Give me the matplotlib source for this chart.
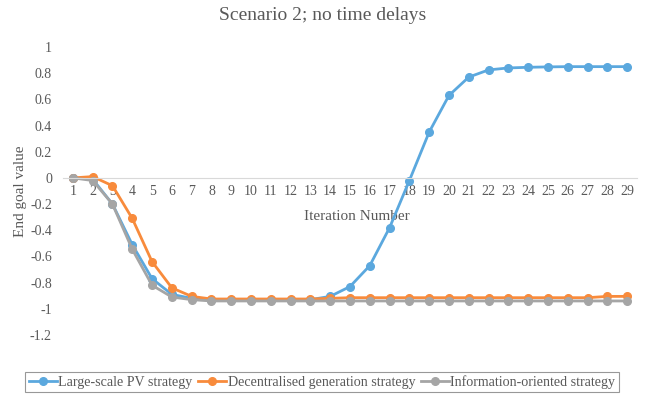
import matplotlib
matplotlib.use("Agg")
import matplotlib.pyplot as plt
import numpy as np

iterations = list(range(1, 30))

large_scale_pv = [0.0, -0.01, -0.2, -0.51, -0.77, -0.89, -0.92, -0.93, -0.93, -0.93,
                  -0.93, -0.93, -0.93, -0.905, -0.83, -0.67, -0.38, -0.02, 0.35, 0.63,
                  0.77, 0.825, 0.84, 0.845, 0.848, 0.85, 0.85, 0.85, 0.85]
decentralised = [0.0, 0.01, -0.06, -0.31, -0.64, -0.84, -0.905, -0.925, -0.925, -0.925,
                 -0.925, -0.925, -0.925, -0.92, -0.915, -0.915, -0.915, -0.915, -0.915, -0.915,
                 -0.915, -0.915, -0.915, -0.915, -0.915, -0.915, -0.915, -0.905, -0.905]
information = [0.0, -0.02, -0.2, -0.545, -0.82, -0.91, -0.93, -0.94, -0.94, -0.94,
               -0.94, -0.94, -0.94, -0.94, -0.94, -0.94, -0.94, -0.94, -0.94, -0.94,
               -0.94, -0.94, -0.94, -0.94, -0.94, -0.94, -0.94, -0.94, -0.94]
yticks = [-1.2, -1, -0.8, -0.6, -0.4, -0.2, 0, 0.2, 0.4, 0.6, 0.8, 1]

labels = ['Large-scale PV strategy', 'Decentralised generation strategy',
          'Information-oriented strategy']
colors = ['#5BA8DE', '#F88B3C', '#A5A5A5']
text_col = '#595959'

plt.rcParams['font.family'] = ['Liberation Serif', 'DejaVu Serif']

fig = plt.figure(figsize=(6.46, 3.95), dpi=100)
ax = fig.add_axes([63/646, 1-335/395, 574/646, 288/395])

x = np.arange(len(iterations))
for vals, lab, col in zip([large_scale_pv, decentralised, information], labels, colors):
    ax.plot(x, vals, color=col, lw=2.0, marker='o', ms=5.5, label=lab)

ax.set_xlim(-0.5, len(iterations) - 0.5)
ax.set_ylim(-1.2, 1.0)
ax.set_yticks(yticks)
ax.set_yticklabels([str(v) for v in yticks])
ax.set_xticks(x)
ax.set_xticklabels([str(i) for i in iterations])

for s in ['top', 'right', 'left']:
    ax.spines[s].set_visible(False)
ax.spines['bottom'].set_position(('data', 0))
ax.spines['bottom'].set_color('#D9D9D9')
ax.tick_params(axis='both', length=0, labelsize=10, colors=text_col)
ax.tick_params(axis='y', pad=8)
ax.tick_params(axis='x', pad=5)

ax.set_xlabel('Iteration Number', fontsize=11, color=text_col)
ax.xaxis.set_label_coords(0.512, 0.435)
ax.set_ylabel('End goal value', fontsize=11, color=text_col)
ax.yaxis.set_label_coords(-0.063, 0.5)

fig.text(0.5, 1-15/395, 'Scenario 2; no time delays', ha='center', va='center',
         fontsize=14, color=text_col)

leg = fig.legend(loc='center', bbox_to_anchor=(322/646, 1-382/395), ncol=3,
                 fontsize=10.1, frameon=True, fancybox=False, handlelength=2.0,
                 handletextpad=0.1, columnspacing=0.4, borderpad=0.25, borderaxespad=0)
leg.get_frame().set_edgecolor('#7F7F7F')
leg.get_frame().set_linewidth(0.8)
for t in leg.get_texts():
    t.set_color(text_col)

fig.savefig('out.png', dpi=100)
